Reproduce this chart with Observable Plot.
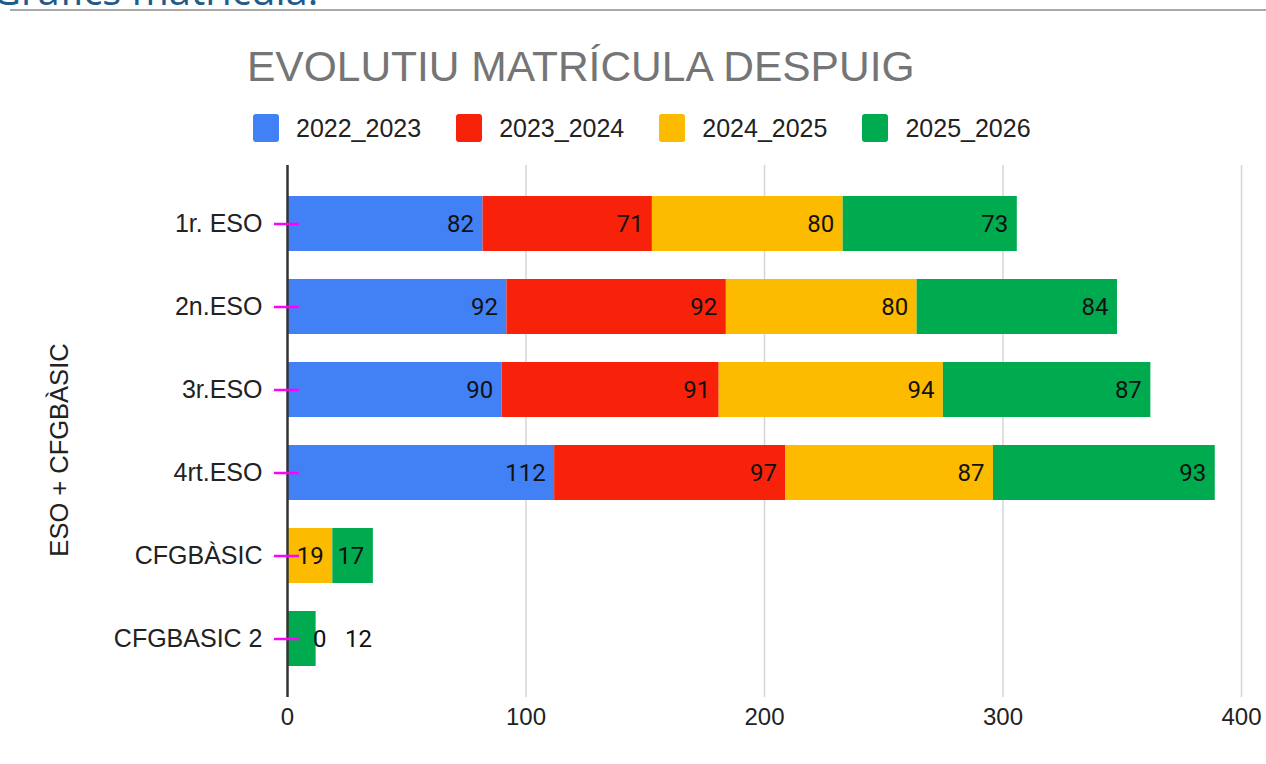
<!DOCTYPE html>
<html>
<head>
<meta charset="utf-8">
<script src="https://cdn.jsdelivr.net/npm/d3@7"></script>
<script src="https://cdn.jsdelivr.net/npm/@observablehq/plot@0.6"></script>
<style>
  html, body { margin: 0; padding: 0; background: #fff; }
  body { width: 1266px; height: 764px; position: relative; overflow: hidden; font-family: "Liberation Sans", Arial, sans-serif; }
  #chart { position: absolute; left: 0; top: 0; }
  #toptext { position: absolute; left: -8px; top: -30px; font: 40px/1 "Open Sans", sans-serif; color: #245a8a; white-space: nowrap; }
  #topline { position: absolute; left: 10px; right: 0; top: 9px; height: 2px; background: #a9a9a9; }
  #title { position: absolute; left: 247px; top: 46px; font: 42.5px/1 "Liberation Sans", Arial, sans-serif; color: #757575; white-space: nowrap; }
  #legend { position: absolute; left: 253px; top: 114px; display: flex; align-items: center; font: 25px/1 "Liberation Sans", Arial, sans-serif; color: #222; }
  .item { display: flex; align-items: center; margin-right: 35px; }
  .sw { width: 26px; height: 28px; border-radius: 3px; margin-right: 17px; }
  #ytitle { position: absolute; left: 60px; top: 450px; transform: translate(-50%, -50%) rotate(-90deg); font: 25.5px/1 "Liberation Sans", Arial, sans-serif; color: #222; white-space: nowrap; }
</style>
</head>
<body>
<div id="chart"></div>
<div id="toptext">Gràfics matrícula.</div>
<div id="topline"></div>
<div id="title"></div>
<div id="legend"></div>
<div id="ytitle"></div>
<script>
const titleText = "EVOLUTIU MATRÍCULA DESPUIG";
const yTitle = "ESO + CFGBÀSIC";
const categories = ["1r. ESO", "2n.ESO", "3r.ESO", "4rt.ESO", "CFGBÀSIC", "CFGBASIC 2"];
const series = ["2022_2023", "2023_2024", "2024_2025", "2025_2026"];
const v2022_2023 = [82, 92, 90, 112, null, null];
const v2023_2024 = [71, 92, 91, 97, null, null];
const v2024_2025 = [80, 80, 94, 87, 19, 0];
const v2025_2026 = [73, 84, 87, 93, 17, 12];
const colors = ["#4280f5", "#f8220b", "#fdbb00", "#00aa4e"];
const xTicks = [0, 100, 200, 300, 400];

const seriesValues = [v2022_2023, v2023_2024, v2024_2025, v2025_2026];
const rows = [];
categories.forEach((cat, i) => {
  series.forEach((s, j) => {
    const v = seriesValues[j][i];
    if (v !== null) rows.push({cat, series: s, value: v});
  });
});
const totals = categories.map((cat, i) => d3.sum(seriesValues, arr => arr[i] || 0));
const smallLimit = 15;
const insideRows = rows.filter(d => d.value >= smallLimit);
const outsideRows = [];
categories.forEach((cat, i) => {
  let k = 0;
  rows.filter(d => d.cat === cat && d.value < smallLimit).forEach(d => {
    outsideRows.push({cat, value: d.value, total: totals[i], k: k++});
  });
});

document.getElementById("title").textContent = titleText;
document.getElementById("ytitle").textContent = yTitle;
const legend = document.getElementById("legend");
series.forEach((s, j) => {
  const it = document.createElement("div");
  it.className = "item";
  const sw = document.createElement("div");
  sw.className = "sw";
  sw.style.background = colors[j];
  const tx = document.createElement("span");
  tx.textContent = s;
  it.appendChild(sw); it.appendChild(tx);
  legend.appendChild(it);
});

const labelStyle = {fill: "#111", fontFamily: "Roboto, sans-serif", fontSize: 24};
const chart = Plot.plot({
  width: 1266,
  height: 764,
  marginLeft: 287,
  marginRight: 25,
  marginTop: 165,
  marginBottom: 67,
  style: {fontFamily: "'Liberation Sans', Arial, sans-serif", fontSize: "25px", color: "#222", background: "transparent"},
  x: {domain: [0, 400]},
  y: {domain: categories, padding: 0.34},
  color: {domain: series, range: colors},
  marks: [
    Plot.ruleX(xTicks.slice(1), {stroke: "#d6d6d6", strokeWidth: 1.5}),
    Plot.barX(rows, Plot.stackX({x: "value", y: "cat", fill: "series", order: series})),
    Plot.text(insideRows, Plot.stackX2({
      x: "value", y: "cat", z: "series", order: series,
      text: d => String(d.value), textAnchor: "end", dx: -9, ...labelStyle
    })),
    Plot.text(outsideRows.filter(d => d.k === 0), {
      x: "total", y: "cat", text: d => String(d.value), textAnchor: "start", dx: -3, ...labelStyle
    }),
    Plot.text(outsideRows.filter(d => d.k === 1), {
      x: "total", y: "cat", text: d => String(d.value), textAnchor: "start", dx: 29, ...labelStyle
    }),
    Plot.ruleX([0], {stroke: "#333", strokeWidth: 2.5}),
    Plot.axisY({tickSize: 25, dx: 12, tickPadding: 12, stroke: "#f0f", strokeWidth: 2.5, fill: "#222", fontSize: 25, label: null}),
    Plot.axisX({ticks: xTicks, tickSize: 0, tickPadding: 10, fill: "#222", fontSize: 24, label: null})
  ]
});
document.getElementById("chart").appendChild(chart);
</script>
</body>
</html>
